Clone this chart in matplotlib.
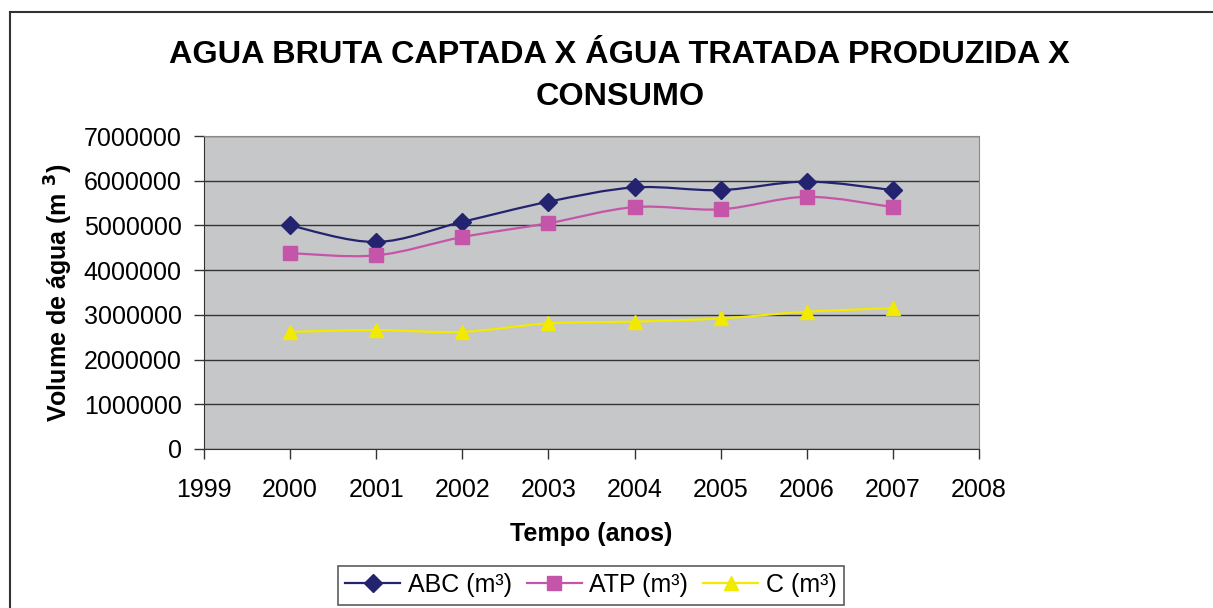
import numpy as np
import matplotlib
matplotlib.use('Agg')
import matplotlib.pyplot as plt
from matplotlib.path import Path
from matplotlib.patches import PathPatch
from matplotlib.lines import Line2D

plt.rcParams['font.family'] = ['Liberation Sans', 'DejaVu Sans']

anos = [2000, 2001, 2002, 2003, 2004, 2005, 2006, 2007]
abc = [5000000, 4630000, 5080000, 5530000, 5850000, 5790000, 5980000, 5790000]
atp = [4380000, 4330000, 4740000, 5050000, 5410000, 5360000, 5640000, 5410000]
consumo = [2620000, 2660000, 2620000, 2810000, 2850000, 2920000, 3070000, 3150000]
nomes = ['ABC (m³)', 'ATP (m³)', 'C (m³)']
cores = ['#23236f', '#c455a8', '#f2ea00']
marcadores = ['D', 's', '^']
anos_ticks = list(range(1999, 2009))
y_ticks = list(range(0, 7000001, 1000000))


def smooth_path(xs, ys):
    # bezier like excel's "smoothed line"
    pts = np.column_stack([xs, ys]).astype(float)
    n = len(pts)
    verts = [pts[0]]
    codes = [Path.MOVETO]
    for i in range(n - 1):
        p0 = pts[i - 1] if i > 0 else pts[i]
        p1 = pts[i]
        p2 = pts[i + 1]
        p3 = pts[i + 2] if i + 2 < n else pts[i + 1]
        c1 = p1 + (p2 - p0) / 6.0
        c2 = p2 - (p3 - p1) / 6.0
        verts += [c1, c2, p2]
        codes += [Path.CURVE4] * 3
    return Path(verts, codes)


fig = plt.figure(figsize=(12.13, 6.08), dpi=100)
W, H = 1213, 608
ax = fig.add_axes([204 / W, 1 - 449 / H, 775 / W, 313 / H])
ax.set_facecolor('#c6c7c9')

for serie, cor, m, nome in zip([abc, atp, consumo], cores, marcadores, nomes):
    ax.add_patch(PathPatch(smooth_path(anos, serie), facecolor='none',
                           edgecolor=cor, lw=1.6, zorder=3))
    ms = 9 if m == 'D' else 10
    ax.plot(anos, serie, linestyle='none', marker=m, color=cor, ms=ms, zorder=4)

ax.set_xlim(1999, 2008)
ax.set_ylim(0, 7000000)
ax.set_xticks(anos_ticks)
ax.set_yticks(y_ticks)
ax.set_xticklabels([str(a) for a in anos_ticks], fontsize=18)
ax.set_yticklabels([str(v) for v in y_ticks], fontsize=18)
ax.tick_params(direction='out', length=7, width=1, color='#333333')
ax.tick_params(axis='x', pad=14)
ax.tick_params(axis='y', pad=9)
ax.yaxis.grid(True, color='#333333', lw=1.0)
ax.set_axisbelow(True)
for s in ['left', 'bottom']:
    ax.spines[s].set_color('#333333')
for s in ['top', 'right']:
    ax.spines[s].set_color('#8a8a8a')

ax.set_xlabel('Tempo (anos)', fontsize=18, fontweight='bold', labelpad=14)
ax.set_ylabel(r'Volume de água (m $^{\mathbf{3}}$)', fontsize=18,
              fontweight='bold', labelpad=6)

fig.text(0.511, 1 - 55 / H, 'AGUA BRUTA CAPTADA X ÁGUA TRATADA PRODUZIDA X',
         ha='center', va='center', fontsize=23.3, fontweight='bold')
fig.text(0.511, 1 - 97 / H, 'CONSUMO', ha='center', va='center',
         fontsize=23.3, fontweight='bold')

# outer chart border
fig.add_artist(Line2D([10 / W, 10 / W], [0, 1 - 12 / H], transform=fig.transFigure,
                      color='#333333', lw=1.5))
fig.add_artist(Line2D([10 / W, 1], [1 - 12 / H, 1 - 12 / H], transform=fig.transFigure,
                      color='#333333', lw=1.5))

handles = [Line2D([], [], color=c, marker=m, lw=1.6, ms=9 if m == 'D' else 10)
           for c, m in zip(cores, marcadores)]
leg = fig.legend(handles, nomes, loc='center', bbox_to_anchor=(591 / W, 1 - 585 / H),
                 ncol=3, fontsize=18, frameon=True, fancybox=False,
                 handlelength=2.2, handletextpad=0.3, columnspacing=0.6,
                 borderpad=0.3)
leg.get_frame().set_edgecolor('#333333')
leg.get_frame().set_linewidth(1.2)

fig.savefig('out.png', dpi=100)
